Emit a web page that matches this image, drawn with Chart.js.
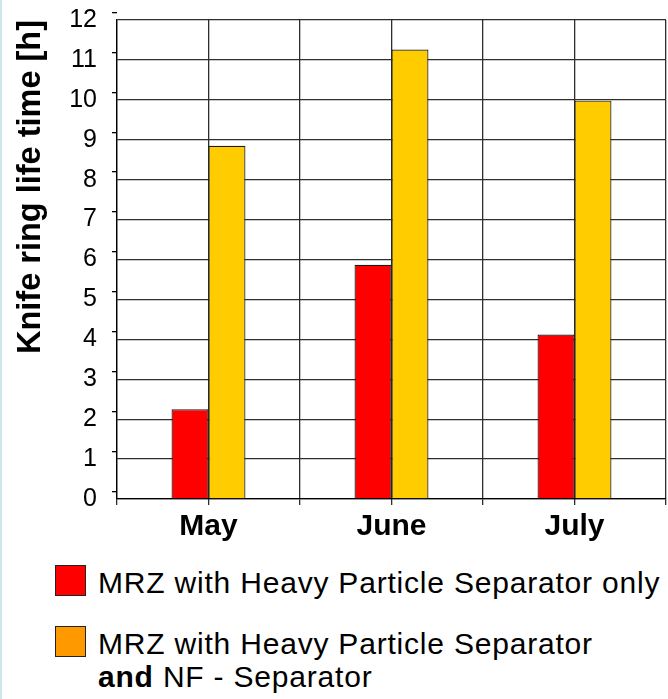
<!DOCTYPE html>
<html>
<head>
<meta charset="utf-8">
<script src="https://cdn.jsdelivr.net/npm/chart.js@4"></script>
<style>
  html, body { margin: 0; padding: 0; background: #fff; }
  body { width: 668px; height: 699px; position: relative; overflow: hidden; font-family: 'Liberation Sans', Arial, sans-serif; }
  #edge { position: absolute; left: 0; top: 0; width: 2px; height: 699px; background: #cfe6ea; }
  #wrap { position: absolute; left: 0; top: 0; width: 668px; height: 552px; }
  .box { position: absolute; left: 55px; width: 29px; height: 29px; border: 1px solid #222; }
  .txt { position: absolute; left: 98px; font-size: 30px; line-height: 33px; color: #000; letter-spacing: 0.8px; white-space: nowrap; }
</style>
</head>
<body>
<div id="edge"></div>
<div id="wrap"><canvas id="myChart"></canvas></div>

<div class="box" style="top:565px; background:#ff0000;"></div>
<div class="txt" style="top:566px;">MRZ with Heavy Particle Separator only</div>
<div class="box" style="top:626px; background:#ff9900;"></div>
<div class="txt" style="top:627px;">MRZ with Heavy Particle Separator<br><b>and</b> NF - Separator</div>

<script>
const meses = ['May', 'June', 'July'];
const soloPesadas = [2.25, 5.87, 4.12];      // MRZ with Heavy Particle Separator only
const conSeparadorNF = [8.85, 11.26, 9.98];  // ... and NF - Separator
const ticksY = [0, 1, 2, 3, 4, 5, 6, 7, 8, 9, 10, 11, 12];

const FUENTE = "'Liberation Sans', Arial, sans-serif";
const GRIS = '#2e2e2e';
const DESFASE_MARCAS = 0.19; // en el original las marcas del eje Y quedan algo por encima de la rejilla

Chart.defaults.font.family = FUENTE;
Chart.defaults.color = '#000';

const config = {
    type: 'bar',
    data: {
        labels: meses,
        datasets: [{
            label: 'MRZ with Heavy Particle Separator only',
            data: soloPesadas,
            backgroundColor: '#ff0000',
            borderColor: '#1a1a1a',
            borderWidth: 1.2,
            categoryPercentage: 0.404,
            barPercentage: 1.0
        }, {
            label: 'MRZ with Heavy Particle Separator and NF - Separator',
            data: conSeparadorNF,
            backgroundColor: '#ffcc00',
            borderColor: '#1a1a1a',
            borderWidth: 1.2,
            categoryPercentage: 0.404,
            barPercentage: 1.0
        }]
    },
    options: {
        responsive: true,
        maintainAspectRatio: false,
        animation: false,
        layout: { padding: { top: 20, right: 2, bottom: 3, left: 0 } },
        plugins: {
            legend: { display: false },
            tooltip: { enabled: false }
        },
        scales: {
            x2: {
                type: 'category',
                labels: meses,
                position: 'bottom',
                offset: true,
                weight: -1,
                ticks: { display: false },
                grid: { offset: false, color: GRIS, lineWidth: 1.3, tickLength: 6 },
                border: { display: false },
                afterFit: s => { s.height = 0; }
            },
            x: {
                offset: true,
                ticks: { font: { size: 30, weight: 'bold' }, color: '#000', padding: 4, maxRotation: 0 },
                grid: { offset: true, color: GRIS, lineWidth: 1.3, tickLength: 6 },
                border: { color: '#000', width: 1.3 }
            },
            y: {
                min: 0,
                max: 12,
                afterBuildTicks: s => { s.ticks = ticksY.map(v => ({ value: v })); },
                ticks: { font: { size: 25 }, color: '#000', padding: 20 },
                grid: { color: GRIS, lineWidth: 1.3, drawTicks: false, tickLength: 0 },
                border: { color: '#000', width: 1.3 },
                title: {
                    display: true,
                    text: 'Knife ring life time [h]',
                    align: 'end',
                    color: '#000',
                    font: { size: 32.5, weight: 'bold' },
                    padding: { top: 12, bottom: 0 }
                },
                afterFit: s => {
                    s.width = 117;
                    s.paddingTop = 0;
                    s.paddingBottom = 0;
                }
            },
            y2: {
                position: 'left',
                weight: -1,
                min: 0,
                max: 12,
                afterBuildTicks: s => { s.ticks = ticksY.map(v => ({ value: v + DESFASE_MARCAS })); },
                ticks: { display: false },
                grid: { drawOnChartArea: false, color: '#000', lineWidth: 1.3, tickLength: 5 },
                border: { display: false },
                afterFit: s => {
                    s.width = 0;
                    s.paddingTop = 0;
                    s.paddingBottom = 0;
                }
            }
        }
    }
};

const myChart = new Chart(document.getElementById('myChart').getContext('2d'), config);
</script>
</body>
</html>
